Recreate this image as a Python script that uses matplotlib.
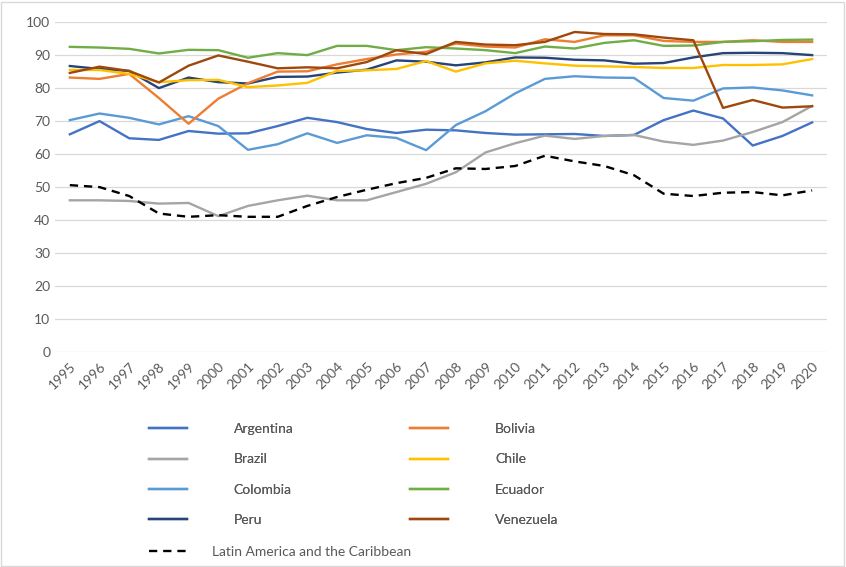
"""Share of population, Latin American countries 1995-2020."""

import numpy as np
import matplotlib.pyplot as plt
from matplotlib.patches import Rectangle

plt.rcParams['font.family'] = ['Lato', 'DejaVu Sans']

years = list(range(1995, 2021))

argentina = [66, 70, 64.8, 64.3, 67, 66.2, 66.3, 68.5, 71, 69.7, 67.6, 66.4, 67.4,
             67.2, 66.4, 65.9, 66, 66.1, 65.5, 65.8, 70.3, 73.2, 70.8, 62.6, 65.5, 69.6]
bolivia = [83.2, 82.8, 84.3, 77, 69.2, 76.8, 81.5, 85, 85.1, 87.2, 88.8, 90.2, 91,
           93.5, 92.6, 92.3, 94.8, 94, 96, 96, 94.3, 94, 94, 94.5, 94, 94]
brazil = [46, 46, 45.8, 45, 45.2, 41.2, 44.3, 46, 47.4, 46, 46, 48.5, 51,
          54.5, 60.5, 63.3, 65.6, 64.6, 65.5, 65.8, 63.8, 62.8, 64.1, 66.7, 69.7, 74.6]
chile = [85.5, 85.5, 84.3, 81.8, 82.4, 82.5, 80.3, 80.8, 81.6, 85.2, 85.4, 85.8, 88.2,
         85, 87.5, 88.3, 87.5, 86.8, 86.6, 86.4, 86.1, 86.1, 87, 87, 87.2, 88.8]
colombia = [70.3, 72.3, 71, 69, 71.5, 68.5, 61.3, 63, 66.3, 63.4, 65.7, 64.9, 61.2,
            68.8, 73, 78.4, 82.8, 83.6, 83.2, 83.1, 77, 76.2, 79.9, 80.2, 79.3, 77.8]
ecuador = [92.5, 92.3, 91.9, 90.5, 91.6, 91.5, 89.2, 90.6, 90, 92.8, 92.8, 91.5, 92.4,
           92, 91.5, 90.6, 92.6, 92, 93.7, 94.5, 92.8, 92.9, 94, 94.2, 94.6, 94.7]
peru = [86.7, 85.8, 85.2, 80, 83.2, 81.8, 81.4, 83.4, 83.5, 84.7, 85.6, 88.4, 88,
        86.9, 87.8, 89.3, 89.2, 88.6, 88.4, 87.4, 87.6, 89.3, 90.6, 90.7, 90.6, 90]
venezuela = [84.6, 86.5, 85.2, 81.7, 86.8, 89.9, 88, 86, 86.3, 86, 87.9, 91.5, 90.3,
             94, 93.2, 93, 94, 97, 96.4, 96.3, 95.3, 94.5, 74, 76.4, 74.1, 74.5]
lac = [50.6, 50, 47.3, 42, 41, 41.5, 41, 41, 44.3, 47, 49.2, 51.2, 52.8,
       55.7, 55.5, 56.4, 59.5, 57.8, 56.4, 53.6, 48, 47.3, 48.3, 48.5, 47.5, 49]

# legend order: left column then right column
series = [
    ('Argentina', argentina, '#4472C4'),
    ('Brazil', brazil, '#A5A5A5'),
    ('Colombia', colombia, '#5B9BD5'),
    ('Peru', peru, '#264478'),
    ('Bolivia', bolivia, '#ED7D31'),
    ('Chile', chile, '#FFC000'),
    ('Ecuador', ecuador, '#70AD47'),
    ('Venezuela', venezuela, '#9E480E'),
]

fig = plt.figure(figsize=(8.46, 5.67), dpi=100)
ax = fig.add_axes([0.065, 0.379, 0.9125, 0.582])

x = np.arange(len(years))
handles = []
for name, vals, col in series:
    h, = ax.plot(x, vals, color=col, lw=1.7, label=name)
    handles.append(h)
h_lac, = ax.plot(x, lac, color='black', lw=1.7, ls=(0, (3.5, 2.5)),
                 label='Latin America and the Caribbean')

ax.set_xlim(-0.5, len(years) - 0.5)
ax.set_ylim(0, 100)
ax.set_yticks(range(0, 101, 10))
ax.set_xticks(x)
ax.set_xticklabels(years, rotation=45, ha='right', rotation_mode='anchor')
ax.tick_params(length=0, labelsize=10, labelcolor='#595959')
ax.tick_params(axis='x', pad=6)
ax.grid(axis='y', color='#d9d9d9', lw=0.9)
ax.set_axisbelow(True)
for s in ax.spines.values():
    s.set_visible(False)

leg1 = fig.legend(handles=handles, ncol=2, loc='upper left',
                  bbox_to_anchor=(0.168, 0.266), frameon=False, fontsize=10,
                  handlelength=2.7, handletextpad=3.4, columnspacing=8.4,
                  labelspacing=1.32, borderpad=0, labelcolor='#595959')
fig.add_artist(leg1)
fig.legend(handles=[h_lac], loc='upper left', bbox_to_anchor=(0.168, 0.05),
           frameon=False, fontsize=10, handlelength=2.7, handletextpad=1.8,
           borderpad=0, labelcolor='#595959')

# chart area border
fig.add_artist(Rectangle((0.001, 0.001), 0.997, 0.995, transform=fig.transFigure,
                         fill=False, edgecolor='#d9d9d9', lw=1))

fig.savefig('out.png', dpi=100)
